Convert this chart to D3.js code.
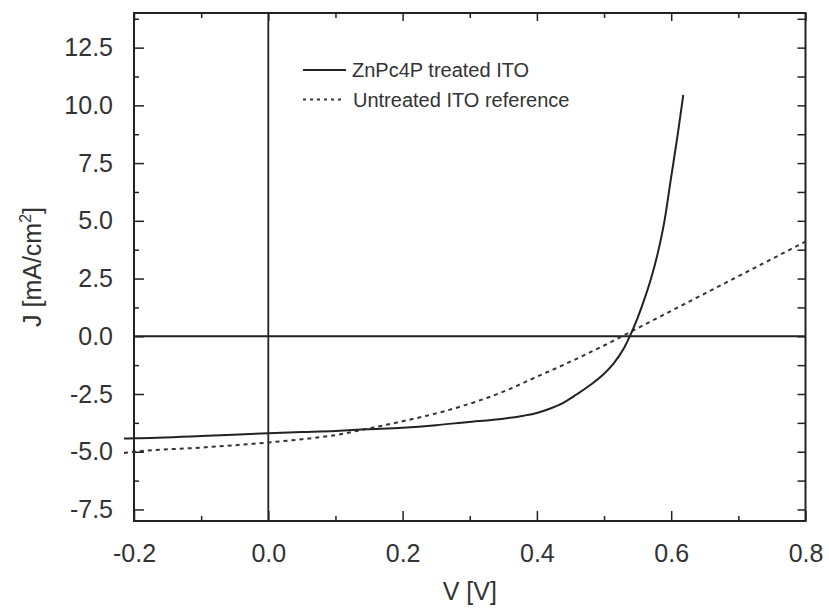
<!DOCTYPE html>
<html>
<head>
<meta charset="utf-8">
<script src="https://cdn.jsdelivr.net/npm/d3@7"></script>
<style>
    body { margin: 0; background: #fff; }
    text { font-family: "Liberation Sans", Arial, sans-serif; fill: #333; }
</style>
</head>
<body>
<svg id="chart" width="829" height="608"></svg>
<script>
// ZnPc4P treated ITO (solid)
var treatedV = [-0.215, -0.2, -0.1, 0.0, 0.05, 0.1, 0.145, 0.2, 0.25, 0.295, 0.35, 0.38, 0.4, 0.42, 0.44, 0.46, 0.48, 0.5, 0.515, 0.53, 0.54, 0.55, 0.56, 0.57, 0.58, 0.59, 0.6, 0.61, 0.618];
var treatedJ = [-4.43, -4.42, -4.32, -4.2, -4.15, -4.1, -4.03, -3.96, -3.85, -3.72, -3.57, -3.44, -3.32, -3.13, -2.87, -2.5, -2.1, -1.62, -1.15, -0.5, 0.1, 0.8, 1.6, 2.5, 3.6, 5.0, 6.9, 8.8, 10.45];

// Untreated ITO reference (dashed)
var untreatedV = [-0.215, -0.2, -0.1, 0.0, 0.05, 0.1, 0.145, 0.2, 0.25, 0.3, 0.35, 0.4, 0.45, 0.5, 0.55, 0.6, 0.65, 0.7, 0.75, 0.8];
var untreatedJ = [-5.05, -5.0, -4.82, -4.6, -4.46, -4.28, -4.02, -3.68, -3.34, -2.92, -2.4, -1.75, -1.1, -0.4, 0.35, 1.1, 1.85, 2.6, 3.35, 4.1];

var xMajorTicks = [-0.2, 0.0, 0.2, 0.4, 0.6, 0.8];
var xMinorTicks = [-0.1, 0.1, 0.3, 0.5, 0.7];
var yMajorTicks = [-7.5, -5.0, -2.5, 0.0, 2.5, 5.0, 7.5, 10.0, 12.5];
var yMinorTicks = [-6.25, -3.75, -1.25, 1.25, 3.75, 6.25, 8.75, 11.25, 13.75];

var seriesNames = ["ZnPc4P treated ITO", "Untreated ITO reference"];

// plot box (window.top is read-only, so no plain "top")
var plotLeft = 134, plotRight = 805.5, plotTop = 13, plotBottom = 521;
var lineColor = "#222";

var svg = d3.select("#chart");
var x = d3.scaleLinear().domain([-0.2, 0.8]).range([plotLeft, plotRight]);
var y = d3.scaleLinear().domain([-8, 14]).range([plotBottom, plotTop]);

function fmt(d) {
    return d3.format(".1f")(d).replace("\u2212", "-");
}

function styleAxis(g) {
    g.select(".domain").remove();
    g.selectAll(".tick line").attr("stroke", lineColor).attr("stroke-width", 1.5);
    g.selectAll(".tick text")
        .attr("font-size", 25)
        .attr("font-family", "'Liberation Sans', Arial, sans-serif")
        .attr("fill", "#333");
}

// bottom and left, with labels
svg.append("g")
    .attr("transform", "translate(0," + plotBottom + ")")
    .call(d3.axisBottom(x).tickValues(xMajorTicks).tickFormat(fmt).tickSizeInner(-10).tickSizeOuter(0).tickPadding(23))
    .call(styleAxis);
svg.append("g")
    .attr("transform", "translate(0," + plotBottom + ")")
    .call(d3.axisBottom(x).tickValues(xMinorTicks).tickFormat("").tickSizeInner(-5).tickSizeOuter(0))
    .call(styleAxis);
svg.append("g")
    .attr("transform", "translate(" + plotLeft + ",0)")
    .call(d3.axisLeft(y).tickValues(yMajorTicks).tickFormat(fmt).tickSizeInner(-10).tickSizeOuter(0).tickPadding(21))
    .call(styleAxis);
svg.append("g")
    .attr("transform", "translate(" + plotLeft + ",0)")
    .call(d3.axisLeft(y).tickValues(yMinorTicks).tickFormat("").tickSizeInner(-5).tickSizeOuter(0))
    .call(styleAxis);

// top and right, ticks only
svg.append("g")
    .attr("transform", "translate(0," + plotTop + ")")
    .call(d3.axisTop(x).tickValues(xMajorTicks).tickFormat("").tickSizeInner(-8).tickSizeOuter(0))
    .call(styleAxis);
svg.append("g")
    .attr("transform", "translate(0," + plotTop + ")")
    .call(d3.axisTop(x).tickValues(xMinorTicks).tickFormat("").tickSizeInner(-5).tickSizeOuter(0))
    .call(styleAxis);
svg.append("g")
    .attr("transform", "translate(" + plotRight + ",0)")
    .call(d3.axisRight(y).tickValues(yMajorTicks.concat(yMinorTicks)).tickFormat("").tickSizeInner(-8).tickSizeOuter(0))
    .call(styleAxis);

// frame
svg.append("rect")
    .attr("x", plotLeft)
    .attr("y", plotTop)
    .attr("width", plotRight - plotLeft)
    .attr("height", plotBottom - plotTop)
    .attr("fill", "none")
    .attr("stroke", lineColor)
    .attr("stroke-width", 2);

// zero lines
svg.append("line")
    .attr("x1", x(0)).attr("x2", x(0))
    .attr("y1", plotTop).attr("y2", plotBottom)
    .attr("stroke", lineColor).attr("stroke-width", 1.8);
svg.append("line")
    .attr("x1", plotLeft).attr("x2", plotRight)
    .attr("y1", y(0)).attr("y2", y(0))
    .attr("stroke", lineColor).attr("stroke-width", 1.8);

var line = d3.line()
    .x(function(d) { return x(d[0]); })
    .y(function(d) { return y(d[1]); })
    .curve(d3.curveMonotoneX);

svg.append("path")
    .datum(d3.zip(untreatedV, untreatedJ))
    .attr("d", line)
    .attr("fill", "none")
    .attr("stroke", "#333")
    .attr("stroke-width", 2)
    .attr("stroke-dasharray", "4,4");

svg.append("path")
    .datum(d3.zip(treatedV, treatedJ))
    .attr("d", line)
    .attr("fill", "none")
    .attr("stroke", lineColor)
    .attr("stroke-width", 2);

// legend
var legend = svg.append("g");
legend.append("line")
    .attr("x1", 303).attr("x2", 346)
    .attr("y1", 70).attr("y2", 70)
    .attr("stroke", lineColor).attr("stroke-width", 2);
legend.append("text")
    .text(seriesNames[0])
    .attr("x", 352)
    .attr("y", 77)
    .attr("font-size", 20);
legend.append("line")
    .attr("x1", 303).attr("x2", 344)
    .attr("y1", 99.5).attr("y2", 99.5)
    .attr("stroke", "#333").attr("stroke-width", 2)
    .attr("stroke-dasharray", "3,4");
legend.append("text")
    .text(seriesNames[1])
    .attr("x", 353)
    .attr("y", 106.5)
    .attr("font-size", 20);

// axis titles
svg.append("text")
    .text("V [V]")
    .attr("x", (plotLeft + plotRight) / 2)
    .attr("y", 600)
    .attr("text-anchor", "middle")
    .attr("font-size", 25);

var yTitle = svg.append("text")
    .attr("transform", "translate(41," + ((plotTop + plotBottom) / 2) + ") rotate(-90)")
    .attr("text-anchor", "middle")
    .attr("font-size", 25);
yTitle.append("tspan").text("J [mA/cm");
yTitle.append("tspan").text("2").attr("font-size", 16).attr("dy", -10);
yTitle.append("tspan").text("]").attr("dy", 10);
</script>
</body>
</html>
